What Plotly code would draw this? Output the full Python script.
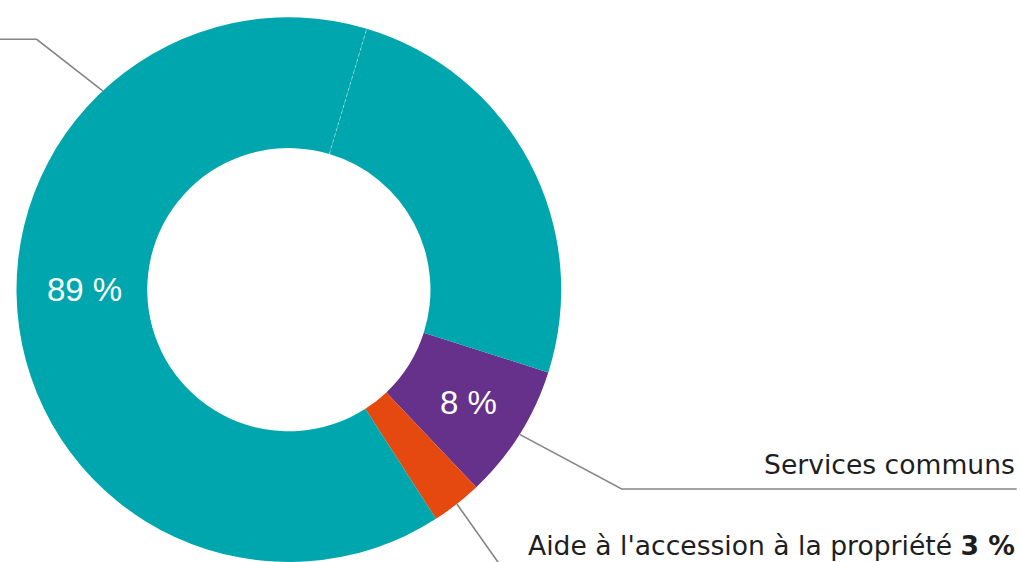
import math
import plotly.graph_objects as go

W, H = 1020, 562

# Budget split (%), listed clockwise from the starting angle
labels = [
    "Services communs",
    "Aide à l'accession à la propriété",
    "Aides au logement – volet A",
    "Aides au logement – volet B",
]
values = [8, 3, 63.7, 25.3]
colors = ["#66318b", "#e5490f", "#00a6ad", "#00a6ad"]
start_angle = 107.7          # degrees clockwise from 12 o'clock
hole = 0.52

TEAL_SHARE = values[2] + values[3]
teal_label = f"{round(TEAL_SHARE)} %"
services_label = f"{round(values[0])} %"
accession_label = f"{round(values[1])} %"

# pie domain in pixels (left, right, top, bottom)
dom_px = (15.0, 562.7, 17.3, 562.0)
dom_x = [dom_px[0] / W, dom_px[1] / W]
dom_y = [1 - dom_px[3] / H, 1 - dom_px[2] / H]

# geometry that plotly derives from the domain
cx = (dom_px[0] + dom_px[1]) / 2
cy = (dom_px[2] + dom_px[3]) / 2
R = min(dom_px[1] - dom_px[0], dom_px[3] - dom_px[2]) / 2
r_in = R * hole
r_mid = (R + r_in) / 2

total = sum(values)
bounds = [start_angle]
for v in values:
    bounds.append(bounds[-1] + 360 * v / total)
mids = [(a + b) / 2 for a, b in zip(bounds[:-1], bounds[1:])]


def polar(angle, r):
    a = math.radians(angle)
    return cx + r * math.sin(a), cy - r * math.cos(a)


def paper(x, y):
    return x / W, 1 - y / H


def path(points):
    pts = [paper(x, y) for x, y in points]
    return "M " + " L ".join(f"{x:.5f},{y:.5f}" for x, y in pts)


fig = go.Figure(
    go.Pie(
        labels=labels,
        values=values,
        marker=dict(colors=colors, line=dict(width=0)),
        hole=hole,
        sort=False,
        direction="clockwise",
        rotation=start_angle,
        textinfo="none",
        hoverinfo="label+percent",
        domain=dict(x=dom_x, y=dom_y),
        showlegend=False,
    )
)

line_style = dict(color="#858585", width=1.6)
shapes = []

# faint dashed separator between the two teal parts
sep = bounds[3]
p1 = paper(*polar(sep, r_in))
p2 = paper(*polar(sep, R))
shapes.append(dict(type="line", xref="paper", yref="paper",
                   x0=p1[0], y0=p1[1], x1=p2[0], y1=p2[1],
                   line=dict(color="rgba(255,255,255,0.45)", width=1, dash="3px,3px")))

# leader: Services communs
shapes.append(dict(type="path", xref="paper", yref="paper",
                   path=path([polar(mids[0], R), (621.7, 489.0), (1016.7, 489.0)]),
                   line=line_style))
# leader: accession à la propriété
shapes.append(dict(type="path", xref="paper", yref="paper",
                   path=path([polar(mids[1], R), (505.0, 572.0)]),
                   line=line_style))
# leader: teal share (label sits off to the left)
shapes.append(dict(type="path", xref="paper", yref="paper",
                   path=path([polar(316.9, R), (36.7, 39.3), (-10.0, 39.3)]),
                   line=line_style))

fig.update_layout(shapes=shapes)

annotations = []
white_font = dict(family="Liberation Sans, Arial, sans-serif", size=33, color="white")
dark_font = dict(family="DejaVu Sans, sans-serif", size=26.6, color="#1e1e1e")

tx, ty = paper(*polar(270, r_mid - 3))
annotations.append(dict(x=tx, y=ty, xref="paper", yref="paper", text=teal_label,
                        showarrow=False, font=white_font, xanchor="center", yanchor="middle"))
tx, ty = paper(*polar(mids[0], r_mid + 5))
annotations.append(dict(x=tx, y=ty, xref="paper", yref="paper", text=services_label,
                        showarrow=False, font=white_font, xanchor="center", yanchor="middle"))

tx, ty = paper(1017, 464)
annotations.append(dict(x=tx, y=ty, xref="paper", yref="paper", text=labels[0],
                        showarrow=False, font=dark_font, xanchor="right", yanchor="middle"))
tx, ty = paper(1017, 545)
annotations.append(dict(x=tx, y=ty, xref="paper", yref="paper",
                        text=f"{labels[1]} <b>{accession_label}</b>",
                        showarrow=False, font=dark_font, xanchor="right", yanchor="middle"))

fig.update_layout(
    annotations=annotations,
    width=W,
    height=H,
    margin=dict(l=0, r=0, t=0, b=0),
    paper_bgcolor="white",
    plot_bgcolor="white",
)

fig.write_html("out.html")
